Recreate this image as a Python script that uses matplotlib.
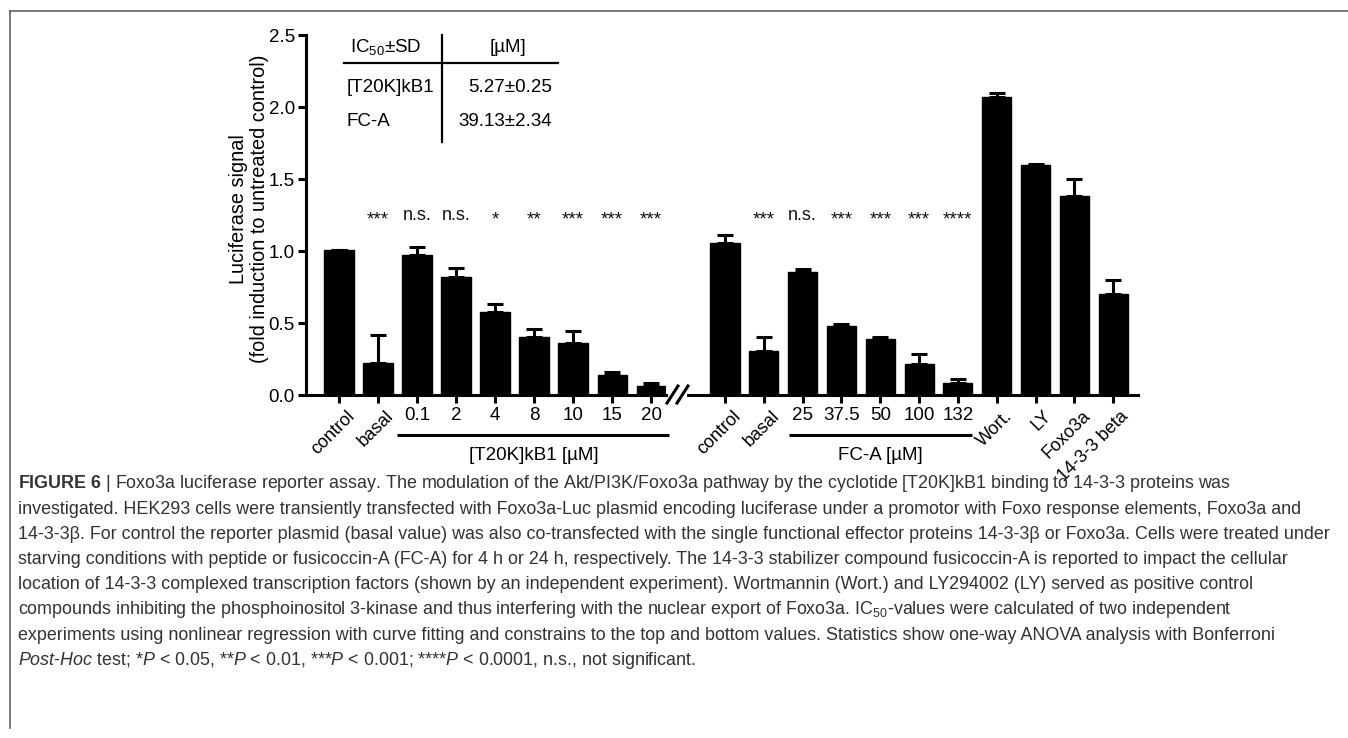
import matplotlib
matplotlib.use("Agg")
import matplotlib.pyplot as plt
import matplotlib.transforms as mtransforms
from matplotlib import font_manager
from matplotlib.lines import Line2D
import numpy as np

# ── Data ───────────────────────────────────────────────────────────────────
# [T20K]kB1 series (left block)
kb1_labels = ["control", "basal", "0.1", "2", "4", "8", "10", "15", "20"]
kb1_values = [1.01, 0.225, 0.97, 0.82, 0.575, 0.405, 0.36, 0.137, 0.065]
kb1_errors = [0.0, 0.19, 0.055, 0.065, 0.055, 0.055, 0.085, 0.02, 0.017]
kb1_signif = ["", "***", "n.s.", "n.s.", "*", "**", "***", "***", "***"]

# FC-A series plus reference compounds (right block)
fca_labels = ["control", "basal", "25", "37.5", "50", "100", "132",
              "Wort.", "LY", "Foxo3a", "14-3-3 beta"]
fca_values = [1.058, 0.305, 0.856, 0.477, 0.392, 0.216, 0.081,
              2.067, 1.598, 1.382, 0.698]
fca_errors = [0.054, 0.098, 0.018, 0.018, 0.008, 0.068, 0.028,
              0.028, 0.009, 0.115, 0.10]
fca_signif = ["", "***", "n.s.", "***", "***", "***", "****", "", "", "", ""]

# IC50 table
ic50_names = ["[T20K]kB1", "FC-A"]
ic50_text = ["5.27±0.25", "39.13±2.34"]

caption_lines = [
    r"$\mathbf{FIGURE\ 6}$ | Foxo3a luciferase reporter assay. The modulation of the Akt/PI3K/Foxo3a pathway by the cyclotide [T20K]kB1 binding to 14-3-3 proteins was",
    "investigated. HEK293 cells were transiently transfected with Foxo3a-Luc plasmid encoding luciferase under a promotor with Foxo response elements, Foxo3a and",
    "14-3-3β. For control the reporter plasmid (basal value) was also co-transfected with the single functional effector proteins 14-3-3β or Foxo3a. Cells were treated under",
    "starving conditions with peptide or fusicoccin-A (FC-A) for 4 h or 24 h, respectively. The 14-3-3 stabilizer compound fusicoccin-A is reported to impact the cellular",
    "location of 14-3-3 complexed transcription factors (shown by an independent experiment). Wortmannin (Wort.) and LY294002 (LY) served as positive control",
    r"compounds inhibiting the phosphoinositol 3-kinase and thus interfering with the nuclear export of Foxo3a. IC$_{50}$-values were calculated of two independent",
    "experiments using nonlinear regression with curve fitting and constrains to the top and bottom values. Statistics show one-way ANOVA analysis with Bonferroni",
    r"$\mathit{Post}$-$\mathit{Hoc}$ test; *$\mathit{P}$ < 0.05, **$\mathit{P}$ < 0.01, ***$\mathit{P}$ < 0.001; ****$\mathit{P}$ < 0.0001, n.s., not significant.",
]


def pick_font(*names):
    for name in names:
        try:
            font_manager.findfont(name, fallback_to_default=False)
            return name
        except ValueError:
            continue
    return "DejaVu Sans"


CHART_FONT = pick_font("Liberation Sans", "Arial")

plt.rcParams["font.family"] = CHART_FONT
plt.rcParams["mathtext.fontset"] = "custom"
plt.rcParams["mathtext.rm"] = CHART_FONT
plt.rcParams["mathtext.it"] = CHART_FONT + ":italic"
plt.rcParams["mathtext.bf"] = CHART_FONT + ":bold"

W, H = 1348, 738
LW = 2.2       # spine / bar-outline weight in points
FS = 13.5      # axis text size

fig = plt.figure(figsize=(W / 100, H / 100), dpi=100)
fig.patch.set_facecolor("white")


def px_box(x0, x1, y0, y1):
    return [x0 / W, 1 - y1 / H, (x1 - x0) / W, (y1 - y0) / H]


ax1 = fig.add_axes(px_box(306, 666, 35, 395))
ax2 = fig.add_axes(px_box(688, 1138, 35, 395))


def draw_block(ax, labels, values, errors, signif, xlim):
    x = np.arange(len(labels))
    ax.bar(x, values, width=0.75, color="black", edgecolor="black", linewidth=1)
    ax.errorbar(x, values, yerr=[np.zeros(len(x)), errors], fmt="none",
                ecolor="black", elinewidth=LW, capsize=5.5, capthick=LW)
    for xi, s in zip(x, signif):
        if s:
            off = -0.03 if s.startswith("*") else 0.0
            ax.text(xi, 1.245 + off, s, ha="center", va="center",
                    fontsize=FS - 0.5 if s == "n.s." else FS, color="#111111")
    ax.set_xlim(*xlim)
    ax.set_ylim(0, 2.5)
    ax.set_xticks(x)
    ax.set_xticklabels(labels, fontsize=FS)
    for lab, txt in zip(ax.get_xticklabels(), labels):
        try:
            float(txt)
            lab.set_rotation(0)
            lab.set_ha("center")
        except ValueError:
            lab.set_rotation(45)
            lab.set_ha("right")
            lab.set_va("top")
            lab.set_rotation_mode("anchor")
    ax.tick_params(axis="x", direction="out", length=6, width=LW, pad=3,
                   colors="black")
    for side in ("top", "right"):
        ax.spines[side].set_visible(False)
    ax.spines["bottom"].set_linewidth(LW)
    return x


x1 = draw_block(ax1, kb1_labels, kb1_values, kb1_errors, kb1_signif,
                (-0.846, 8.38))
x2 = draw_block(ax2, fca_labels, fca_values, fca_errors, fca_signif,
                (-0.954, 10.64))

ax1.spines["left"].set_linewidth(LW)
ax1.set_yticks(np.arange(0, 2.51, 0.5))
ax1.set_yticklabels([f"{v:.1f}" for v in np.arange(0, 2.51, 0.5)], fontsize=FS)
ax1.tick_params(axis="y", direction="out", length=6, width=LW, pad=2)
ax2.spines["left"].set_visible(False)
ax2.set_yticks([])

# small rightward nudge of rotated labels so they end at their tick
for ax in (ax1, ax2):
    for lab in ax.get_xticklabels():
        if lab.get_rotation() == 45:
            lab.set_fontsize(FS - 0.5)
            lab.set_transform(lab.get_transform() +
                              mtransforms.ScaledTranslation(7 / 100, 0,
                                                            fig.dpi_scale_trans))

# dose brackets under the concentration labels
for ax, xs, pads, title in ((ax1, x1[2:], (0.51, 0.46), "[T20K]kB1 [µM]"),
                            (ax2, x2[2:7], (0.35, 0.37), "FC-A [µM]")):
    tr = ax.get_xaxis_transform()
    ax.plot([xs[0] - pads[0], xs[-1] + pads[1]], [-0.111, -0.111],
            color="black", lw=LW, transform=tr, clip_on=False,
            solid_capstyle="butt")
    ax.text((xs[0] + xs[-1]) / 2, -0.167, title, transform=tr,
            ha="center", va="center", fontsize=FS)

# axis break marks between the two blocks
for dx in (0, 10):
    fig.add_artist(Line2D([(667 + dx) / W, (678 + dx) / W],
                          [1 - 403 / H, 1 - 386 / H],
                          color="black", lw=LW, transform=fig.transFigure))

fig.text(249 / W, 1 - 209 / H,
         "Luciferase signal\n(fold induction to untreated control)",
         rotation=90, ha="center", va="center", multialignment="center",
         fontsize=FS + 0.8, linespacing=1.1)

# IC50 summary table
fig.text(350 / W, 1 - 47 / H, r"IC$_{50}$±SD", ha="left", va="center",
         fontsize=FS)
fig.text(508 / W, 1 - 47 / H, "[µM]", ha="center", va="center", fontsize=FS)
for i, (name, val) in enumerate(zip(ic50_names, ic50_text)):
    yy = 1 - (87 + 35 * i) / H
    fig.text(347 / W, yy, name, ha="left", va="center", fontsize=FS)
    fig.text(552 / W, yy, val, ha="right", va="center", fontsize=FS)
fig.add_artist(Line2D([344 / W, 558 / W], [1 - 63 / H, 1 - 63 / H],
                      color="black", lw=1.6))
fig.add_artist(Line2D([442 / W, 442 / W], [1 - 35 / H, 1 - 142 / H],
                      color="black", lw=1.6))

# frame
fig.add_artist(Line2D([10 / W, 1.0], [1 - 11 / H, 1 - 11 / H],
                      color="#555555", lw=1.1))
fig.add_artist(Line2D([10 / W, 10 / W], [1 - 11 / H, 1 - 728 / H],
                      color="#555555", lw=1.1))

# caption: size chosen so the longest line spans the text block width
caption = []
for i, line in enumerate(caption_lines):
    caption.append(fig.text(18 / W, 1 - (484 + 25.2 * i) / H, line,
                            ha="left", va="center", fontsize=14,
                            color="#333333"))
renderer = fig.canvas.get_renderer()
widest = max(t.get_window_extent(renderer).width for t in caption)
cap_size = 14 * 1318 / widest
for t in caption:
    t.set_fontsize(cap_size)

fig.savefig("out.png", dpi=100, facecolor="white")
